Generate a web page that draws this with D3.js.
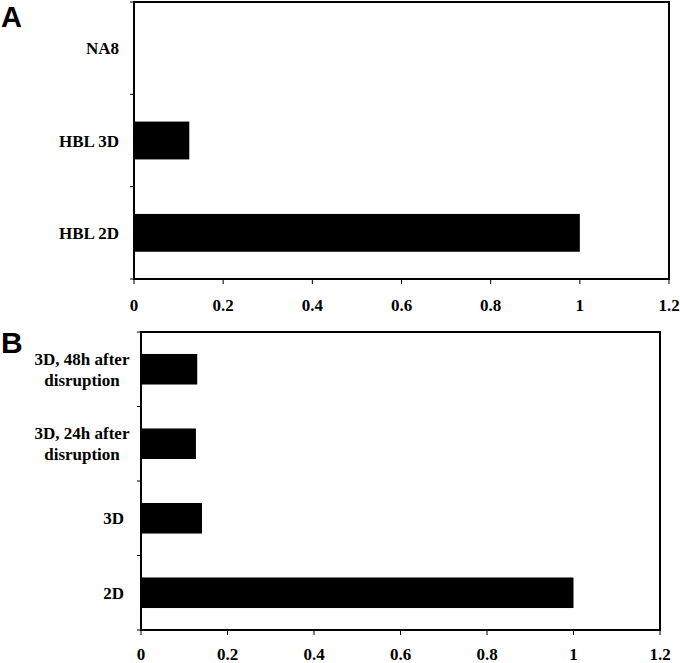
<!DOCTYPE html>
<html>
<head>
<meta charset="utf-8">
<script src="https://cdn.jsdelivr.net/npm/d3@7"></script>
<style>
  body { margin: 0; background: #fff; }
  svg { display: block; }
  .tick-label, .cat-label { font-family: "Liberation Serif", "Times New Roman", serif; font-weight: bold; font-size: 17px; fill: #000; }
  .panel-letter { font-family: "Liberation Sans", Arial, sans-serif; font-weight: bold; fill: #000; }
</style>
</head>
<body>
<svg id="chart" width="680" height="663"></svg>
<script>
// panel A data
const catsA = ["NA8", "HBL 3D", "HBL 2D"];
const valsA = [0, 0.124, 1.0];

// panel B data (labels wrap onto two lines)
const catsB = ["3D, 48h after\ndisruption", "3D, 24h after\ndisruption", "3D", "2D"];
const valsB = [0.13, 0.127, 0.141, 1.0];

const xTicks = [0, 0.2, 0.4, 0.6, 0.8, 1, 1.2];
const xTickLabels = ["0", "0.2", "0.4", "0.6", "0.8", "1", "1.2"];

const svg = d3.select("#chart");

function drawPanel(opts) {
  const { cats, vals, left, right, top, bottom, letter, letterX, letterY, letterSize, labelGap, wrapX, labelY } = opts;

  const x = d3.scaleLinear().domain([0, 1.2]).range([left, right]);
  const y = d3.scaleBand().domain(cats).range([top, bottom]).padding(0);
  const barRatio = 0.41;
  const bh = y.bandwidth() * barRatio;

  const g = svg.append("g");

  // bars
  g.selectAll("rect.bar")
    .data(cats)
    .enter()
    .append("rect")
    .attr("class", "bar")
    .attr("x", x(0))
    .attr("y", (d) => y(d) + (y.bandwidth() - bh) / 2)
    .attr("width", (d, i) => x(vals[i]) - x(0))
    .attr("height", bh)
    .attr("fill", "#000");

  // frame
  g.append("rect")
    .attr("x", left)
    .attr("y", top)
    .attr("width", right - left)
    .attr("height", bottom - top)
    .attr("fill", "none")
    .attr("stroke", "#000")
    .attr("stroke-width", 2);

  // x ticks
  g.selectAll("line.xt")
    .data(xTicks)
    .enter()
    .append("line")
    .attr("x1", (d) => x(d))
    .attr("x2", (d) => x(d))
    .attr("y1", bottom)
    .attr("y2", bottom + 5)
    .attr("stroke", "#000")
    .attr("stroke-width", 1);

  g.selectAll("text.tick-label")
    .data(xTicks)
    .enter()
    .append("text")
    .attr("class", "tick-label")
    .attr("x", (d) => x(d))
    .attr("y", labelY)
    .attr("text-anchor", "middle")
    .text((d, i) => xTickLabels[i]);

  // y ticks at band edges
  const edges = cats.map((c) => y(c)).concat([bottom]);
  g.selectAll("line.yt")
    .data(edges)
    .enter()
    .append("line")
    .attr("x1", left - 4)
    .attr("x2", left)
    .attr("y1", (d) => d)
    .attr("y2", (d) => d)
    .attr("stroke", "#000")
    .attr("stroke-width", 1);

  // category labels
  cats.forEach((c) => {
    const lines = c.split("\n");
    const cy = y(c) + y.bandwidth() / 2;
    const lx = lines.length > 1 ? wrapX : left - labelGap;
    const t = g.append("text")
      .attr("class", "cat-label")
      .attr("text-anchor", lines.length > 1 ? "middle" : "end")
      .attr("x", lx)
      .attr("y", cy - (lines.length - 1) * 10.5 + 6);
    lines.forEach((ln, k) => {
      t.append("tspan")
        .attr("x", lx)
        .attr("dy", k === 0 ? 0 : 21)
        .text(ln);
    });
  });

  svg.append("text")
    .attr("class", "panel-letter")
    .attr("x", letterX)
    .attr("y", letterY)
    .style("font-size", letterSize + "px")
    .text(letter);
}

drawPanel({
  cats: catsA, vals: valsA,
  left: 134, right: 669, top: 2, bottom: 279,
  letter: "A", letterX: 1, letterY: 27, letterSize: 29,
  labelGap: 15, wrapX: 82, labelY: 311
});

drawPanel({
  cats: catsB, vals: valsB,
  left: 141, right: 660, top: 332, bottom: 630,
  letter: "B", letterX: 1, letterY: 353, letterSize: 30,
  labelGap: 17, wrapX: 82, labelY: 660
});
</script>
</body>
</html>
